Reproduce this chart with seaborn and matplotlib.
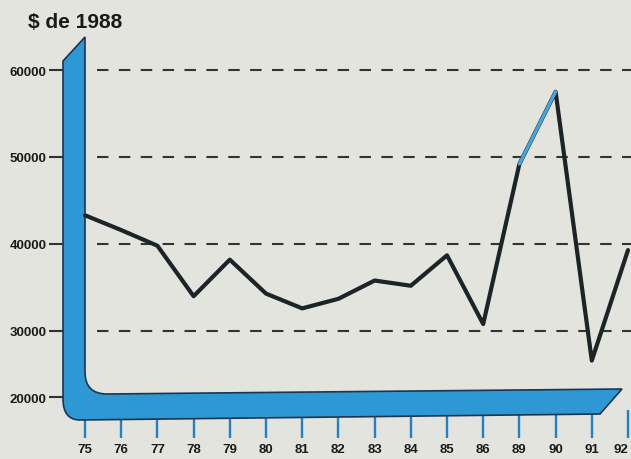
import matplotlib
matplotlib.use("Agg")
import matplotlib.pyplot as plt
import seaborn as sns
import pandas as pd
from matplotlib.path import Path
from matplotlib.patches import PathPatch

# ---- data ----
years = ["75", "76", "77", "78", "79", "80", "81", "82", "83", "84", "85", "86", "89", "90", "91", "92"]
values = [43300, 41600, 39800, 34000, 38200, 34300, 32600, 33700, 35800, 35200, 38700, 30800, 49200, 57500, 26600, 39300]
grid_values = [30000, 40000, 50000, 60000]
ytick_values = [22400, 30000, 40000, 50000, 60000]
ytick_labels = ["20000", "30000", "40000", "50000", "60000"]
highlight_years = ["89", "90"]
title = "\\$ de 1988"

sns.set_style("white")
plt.rcParams["font.family"] = ["Liberation Sans", "DejaVu Sans"]
plt.rcParams["font.weight"] = "bold"

BG = "#e4e4de"
BLUE = "#2e98d4"
NAVY = "#1b3550"
DARK = "#1c2428"

W, H = 631, 460
fig = plt.figure(figsize=(W / 100, H / 100), dpi=100, facecolor=BG)
ax = fig.add_axes([63 / W, 35 / H, 568 / W, 390 / H])
ax.set_facecolor("none")

df = pd.DataFrame({"year": years, "value": values})
sns.lineplot(data=df, x="year", y="value", ax=ax, color=DARK, linewidth=3.0,
             sort=False, zorder=4)
for ln in ax.lines:
    ln.set_solid_joinstyle("round")
    ln.set_solid_capstyle("round")
hl = df[df["year"].isin(highlight_years)]
sns.lineplot(data=hl, x="year", y="value", ax=ax, color="#45a6e0", linewidth=2.4,
             sort=False, zorder=5)

ax.set_xlim(-0.608, 15.083)
ax.set_ylim(19310, 64138)

# dashed reference lines
for g in grid_values:
    ax.axhline(g, xmin=0.06, xmax=1.0, color="#333333", linewidth=1.5,
               linestyle=(0, (5.5, 5.0)), zorder=3)

# 3D-looking blue L axis (figure pixel coordinates)
def P(x, y):
    return (x / W, 1 - y / H)

verts = [P(63, 62), P(85, 38), P(85, 373), P(85, 395), P(107, 395),
         P(622, 390), P(600, 415), P(80, 421), P(63, 421), P(63, 400), P(63, 62)]
codes = [Path.MOVETO, Path.LINETO, Path.LINETO, Path.CURVE3, Path.CURVE3,
         Path.LINETO, Path.LINETO, Path.LINETO, Path.CURVE3, Path.CURVE3, Path.CLOSEPOLY]
bar = PathPatch(Path(verts, codes), facecolor=BLUE, edgecolor=NAVY, linewidth=1.2,
                transform=fig.transFigure, clip_on=False, zorder=2)
ax.add_patch(bar)

# ticks
ax.set_yticks(ytick_values)
ax.set_yticklabels(ytick_labels)
ax.tick_params(axis="y", left=True, length=10, width=1.5, color="#333333", pad=2,
               labelsize=9.5, labelcolor="#1a1a1a")
ax.tick_params(axis="x", bottom=True, direction="inout", length=19.5, width=1.7,
               color="#2181c6", pad=4, labelsize=9.5, labelcolor="#1a1a1a")
for lab in ax.get_xticklabels() + ax.get_yticklabels():
    lab.set_fontweight("bold")
xlabs = ax.get_xticklabels()
xlabs[-1].set_horizontalalignment("right")

ax.set_xlabel("")
ax.set_ylabel("")
for s in ax.spines.values():
    s.set_visible(False)

fig.text(28 / W, 1 - 22 / H, title, ha="left", va="center", fontsize=15,
         fontweight="bold", color="#1a1a1a")

fig.savefig("out.png", dpi=100, facecolor=BG)
